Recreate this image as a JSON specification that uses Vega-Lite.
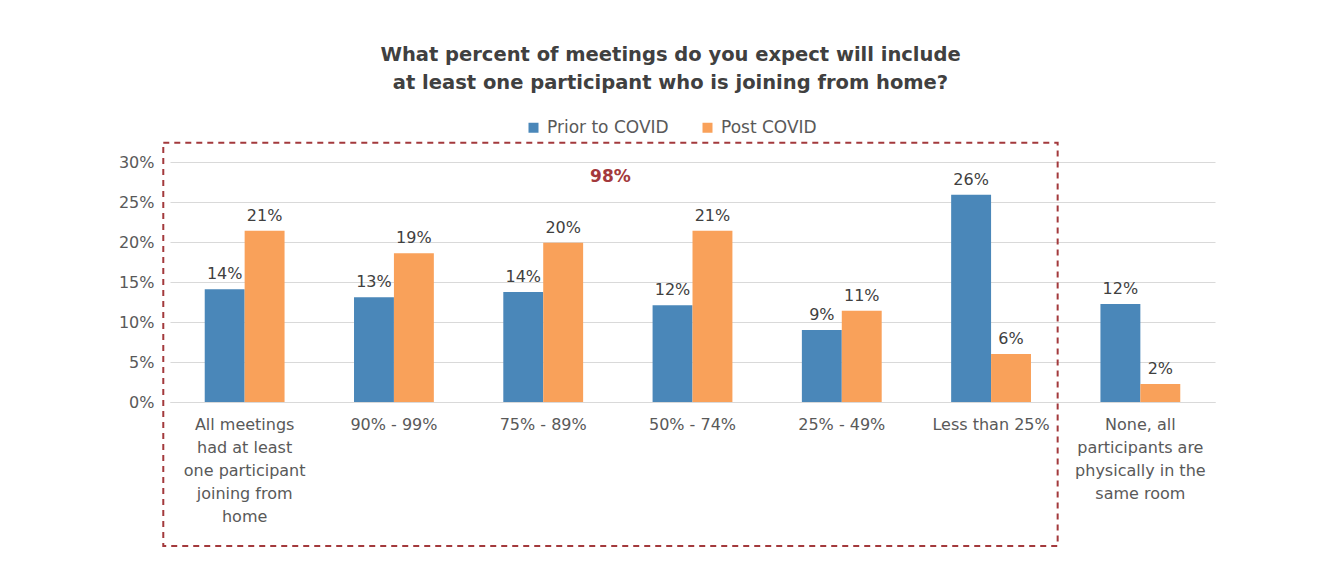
{
  "$schema": "https://vega.github.io/schema/vega-lite/v6.json",
  "width": 1045,
  "height": 240,
  "autosize": {"type": "none"},
  "padding": {"left": 170, "top": 162, "right": 110, "bottom": 169},
  "background": "white",
  "config": {
    "view": {"stroke": null},
    "font": "DejaVu Sans",
    "axisY": {
      "title": null,
      "format": ".0%",
      "labelFont": "DejaVu Sans",
      "labelFontSize": 16,
      "labelColor": "#595959",
      "labelPadding": 16,
      "ticks": false,
      "domain": false,
      "gridColor": "#D9D9D9",
      "gridWidth": 1
    },
    "axisX": {
      "title": null,
      "labelAngle": 0,
      "labelFont": "DejaVu Sans",
      "labelFontSize": 16,
      "labelColor": "#595959",
      "labelLineHeight": 23,
      "labelPadding": 14,
      "labelLimit": 0,
      "ticks": false,
      "domainColor": "#D9D9D9",
      "domainWidth": 1,
      "grid": false
    }
  },
  "title": {
    "text": ["What percent of meetings do you expect will include", "at least one participant who is joining from home?"],
    "font": "DejaVu Sans",
    "fontSize": 19.5,
    "fontWeight": "bold",
    "color": "#404040",
    "lineHeight": 28,
    "anchor": "middle",
    "dx": -22,
    "offset": 26
  },
  "data": {
    "values": [
      {"category": "All meetings\nhad at least\none participant\njoining from\nhome", "series": "Prior to COVID", "value": 0.141},
      {"category": "All meetings\nhad at least\none participant\njoining from\nhome", "series": "Post COVID", "value": 0.214},
      {"category": "90% - 99%", "series": "Prior to COVID", "value": 0.131},
      {"category": "90% - 99%", "series": "Post COVID", "value": 0.186},
      {"category": "75% - 89%", "series": "Prior to COVID", "value": 0.1375},
      {"category": "75% - 89%", "series": "Post COVID", "value": 0.199},
      {"category": "50% - 74%", "series": "Prior to COVID", "value": 0.121},
      {"category": "50% - 74%", "series": "Post COVID", "value": 0.214},
      {"category": "25% - 49%", "series": "Prior to COVID", "value": 0.09},
      {"category": "25% - 49%", "series": "Post COVID", "value": 0.114},
      {"category": "Less than 25%", "series": "Prior to COVID", "value": 0.259},
      {"category": "Less than 25%", "series": "Post COVID", "value": 0.06},
      {"category": "None, all\nparticipants are\nphysically in the\nsame room", "series": "Prior to COVID", "value": 0.1225},
      {"category": "None, all\nparticipants are\nphysically in the\nsame room", "series": "Post COVID", "value": 0.0225}
    ]
  },
  "layer": [
    {
      "mark": {"type": "bar"},
      "encoding": {
        "x": {
          "field": "category",
          "type": "nominal",
          "sort": null,
          "scale": {
            "domain": ["All meetings\nhad at least\none participant\njoining from\nhome", "90% - 99%", "75% - 89%", "50% - 74%", "25% - 49%", "Less than 25%", "None, all\nparticipants are\nphysically in the\nsame room"],
            "paddingInner": 0,
            "paddingOuter": 0
          },
          "axis": {"labelExpr": "split(datum.value, '\\n')", "title": null}
        },
        "y": {
          "field": "value",
          "type": "quantitative",
          "scale": {"domain": [0, 0.3], "nice": false, "zero": true},
          "axis": {"values": [0, 0.05, 0.1, 0.15, 0.2, 0.25, 0.3], "title": null}
        },
        "xOffset": {
          "field": "series",
          "type": "nominal",
          "sort": ["Prior to COVID", "Post COVID"],
          "scale": {"paddingInner": 0, "paddingOuter": 0.87}
        },
        "color": {
          "field": "series",
          "type": "nominal",
          "sort": ["Prior to COVID", "Post COVID"],
          "scale": {"domain": ["Prior to COVID", "Post COVID"], "range": ["#4A87B9", "#F9A15A"]},
          "legend": {
            "title": null,
            "orient": "none",
            "direction": "horizontal",
            "legendX": 355,
            "legendY": -43,
            "padding": 0,
            "symbolType": "square",
            "symbolSize": 100,
            "symbolStrokeWidth": 0,
            "labelFont": "DejaVu Sans",
            "labelFontSize": 17,
            "labelColor": "#595959",
            "labelOffset": 5,
            "columnPadding": 30
          }
        }
      }
    },
    {
      "mark": {"type": "text", "baseline": "bottom", "dy": -7, "font": "DejaVu Sans", "fontSize": 16, "color": "#404040"},
      "encoding": {
        "x": {"field": "category", "type": "nominal", "sort": null, "axis": {"labelExpr": "split(datum.value, '\\n')", "title": null}},
        "y": {"field": "value", "type": "quantitative", "axis": {"values": [0, 0.05, 0.1, 0.15, 0.2, 0.25, 0.3], "title": null}},
        "xOffset": {
          "field": "series",
          "type": "nominal",
          "sort": ["Prior to COVID", "Post COVID"]
        },
        "text": {"field": "value", "type": "quantitative", "format": ".0%"}
      }
    },
    {
      "data": {"values": [{"label": "98%"}]},
      "mark": {"type": "rect", "fill": null, "fillOpacity": 0, "stroke": "#A3393C", "strokeWidth": 2, "strokeDash": [6, 5], "clip": false},
      "encoding": {
        "x": {"datum": "All meetings\nhad at least\none participant\njoining from\nhome", "type": "nominal", "bandPosition": -0.045, "axis": {"labelExpr": "split(datum.value, '\\n')", "title": null}},
        "x2": {"datum": "Less than 25%", "bandPosition": 0.946},
        "y": {"datum": 0.324, "type": "quantitative", "axis": {"values": [0, 0.05, 0.1, 0.15, 0.2, 0.25, 0.3], "title": null}},
        "y2": {"datum": -0.18}
      }
    },
    {
      "data": {"values": [{"label": "98%"}]},
      "mark": {"type": "text", "font": "DejaVu Sans", "fontSize": 17, "fontWeight": "bold", "color": "#A3393C", "baseline": "middle", "align": "center"},
      "encoding": {
        "x": {"datum": "50% - 74%", "type": "nominal", "bandPosition": -0.05, "axis": {"labelExpr": "split(datum.value, '\\n')", "title": null}},
        "y": {"datum": 0.281, "type": "quantitative", "axis": {"values": [0, 0.05, 0.1, 0.15, 0.2, 0.25, 0.3], "title": null}},
        "text": {"field": "label", "type": "nominal"}
      }
    }
  ]
}
